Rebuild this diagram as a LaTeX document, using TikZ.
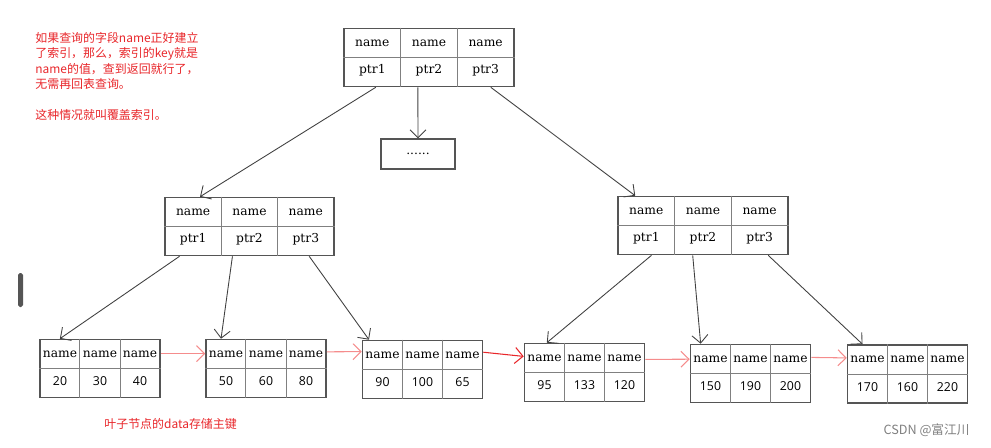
\documentclass[tikz,border=0pt]{standalone}
\usepackage{fontspec}
\setmainfont{DejaVu Serif}
\newfontfamily\numfont{Open Sans}
\newfontfamily\cjk{Noto Sans CJK SC}
\usepackage{tikz}
\usetikzlibrary{arrows.meta,calc,positioning}
\definecolor{notered}{HTML}{E8262A}
\definecolor{chainred}{HTML}{F58C8C}
\definecolor{boxgray}{HTML}{555555}
\tikzset{
  every picture/.style = {
    >={Straight Barb[length=1.6mm,width=3.2mm]},
  }
  ,
  keybox/.style = {
    rectangle,
    draw = boxgray,
    line width = 0.9pt,
    minimum height = 1.16cm,
    inner sep = 0pt
  }
  ,
  divider/.style = {
    draw = gray,
    line width = 0.5pt
  }
  , % edges of the tree
  tree-edge/.style = {
    ->,
    draw = black!75,
    line width = 0.5pt
  }
  , % edges between the leaves
  chain-edge/.style = {
    ->,
    draw = chainred,
    line width = 0.6pt
  }
  ,
  key-text/.style = {
    font = \fontsize{7}{8}\selectfont,
    inner sep = 0pt
  }
  ,
  num-text/.style = {
    font = \numfont\fontsize{7}{8}\selectfont,
    inner sep = 0pt
  }
  ,
  note/.style = {
    font = \cjk\fontsize{6.8}{8.8}\selectfont,
    text = notered,
    align = left,
    inner sep = 0pt
  }
}
% #1 name, #2 centre, #3 width, #4 style of lower row, #5--#7 lower row
\newcommand{\indexbox}[7]{%
  \node[keybox, minimum width=#3cm] (#1) at (#2) {};
  \draw[divider] (#1.west) -- (#1.east);
  \draw[divider] ($(#1.north west)!1/3!(#1.north east)$) -- ($(#1.south west)!1/3!(#1.south east)$);
  \draw[divider] ($(#1.north west)!2/3!(#1.north east)$) -- ($(#1.south west)!2/3!(#1.south east)$);
  \node[key-text] (#1-k1) at ($(#1)+(-#3/3,0.29)$) {name};
  \node[key-text] (#1-k2) at ($(#1)+(0,0.29)$) {name};
  \node[key-text] (#1-k3) at ($(#1)+(#3/3,0.29)$) {name};
  \node[#4] (#1-v1) at ($(#1)+(-#3/3,-0.26)$) {#5};
  \node[#4] (#1-v2) at ($(#1)+(0,-0.26)$) {#6};
  \node[#4] (#1-v3) at ($(#1)+(#3/3,-0.26)$) {#7};
}

\begin{document}
\begin{tikzpicture}
    \useasboundingbox (0,0) rectangle (19.82,8.94);
    \indexbox{root}{8.58,7.79}{3.4}{key-text}{ptr1}{ptr2}{ptr3}
    \node[keybox, minimum width=1.48cm, minimum height=0.6cm, line width=0.7pt, font=\fontsize{7}{8}\selectfont] (more) at (8.36,5.86) {......};
    \indexbox{midl}{4.99,4.41}{3.38}{key-text}{ptr1}{ptr2}{ptr3}
    \indexbox{midr}{14.06,4.43}{3.4}{key-text}{ptr1}{ptr2}{ptr3}
    \indexbox{leafa}{2.0,1.57}{2.4}{num-text}{20}{30}{40}
    \indexbox{leafb}{5.32,1.57}{2.4}{num-text}{50}{60}{80}
    \indexbox{leafc}{8.45,1.55}{2.4}{num-text}{90}{100}{65}
    \indexbox{leafd}{11.69,1.49}{2.4}{num-text}{95}{133}{120}
    \indexbox{leafe}{15.01,1.47}{2.4}{num-text}{150}{190}{200}
    \indexbox{leaff}{18.15,1.46}{2.4}{num-text}{170}{160}{220}

    \draw[tree-edge] ($(root.south west)!0.19!(root.south east)$) -- ($(midl.north west)!0.21!(midl.north east)$);
    \draw[tree-edge] ($(root.south west)!0.435!(root.south east)$) -- (more.north);
    \draw[tree-edge] ($(root.south west)!0.86!(root.south east)$) -- ($(midr.north west)!0.105!(midr.north east)$);
    \draw[tree-edge] ($(midl.south west)!0.09!(midl.south east)$) -- ($(leafa.north west)!0.17!(leafa.north east)$);
    \draw[tree-edge] ($(midl.south west)!0.40!(midl.south east)$) -- ($(leafb.north west)!0.13!(leafb.north east)$);
    \draw[tree-edge] ($(midl.south west)!0.85!(midl.south east)$) -- ($(leafc.north west)!0.06!(leafc.north east)$);
    \draw[tree-edge] ($(midr.south west)!0.20!(midr.south east)$) -- ($(leafd.north west)!0.19!(leafd.north east)$);
    \draw[tree-edge] ($(midr.south west)!0.44!(midr.south east)$) -- ($(leafe.north west)!0.09!(leafe.north east)$);
    \draw[tree-edge] ($(midr.south west)!0.88!(midr.south east)$) -- ($(leaff.north west)!0.13!(leaff.north east)$);

    \draw[chain-edge] ($(leafa.north east)!0.25!(leafa.south east)$) -- ($(leafb.north west)!0.25!(leafb.south west)$);
    \draw[chain-edge] ($(leafb.north east)!0.22!(leafb.south east)$) -- ($(leafc.north west)!0.2!(leafc.south west)$);
    \draw[chain-edge, draw=notered] ($(leafc.north east)!0.21!(leafc.south east)$) -- ($(leafd.north west)!0.23!(leafd.south west)$);
    \draw[chain-edge] ($(leafd.north east)!0.28!(leafd.south east)$) -- ($(leafe.north west)!0.26!(leafe.south west)$);
    \draw[chain-edge] ($(leafe.north east)!0.23!(leafe.south east)$) -- ($(leaff.north west)!0.23!(leaff.south west)$);

    \node[note, anchor=north west] (remark) at (0.7,8.30) {如果查询的字段name正好建立\\了索引，那么，索引的key就是\\name的值，查到返回就行了，\\无需再回表查询。\\[8.8pt]这种情况就叫覆盖索引。};
    \node[note, anchor=west] (leafnote) at (2.08,0.46) {叶子节点的data存储主键};
    \node[font=\cjk\fontsize{7.2}{8}\selectfont, text=black!50, inner sep=0pt] (mark) at (18.53,0.34) {CSDN @富江川};
    \fill[boxgray, rounded corners=1pt] (0.36,2.80) rectangle (0.46,3.48);
\end{tikzpicture}
\end{document}
